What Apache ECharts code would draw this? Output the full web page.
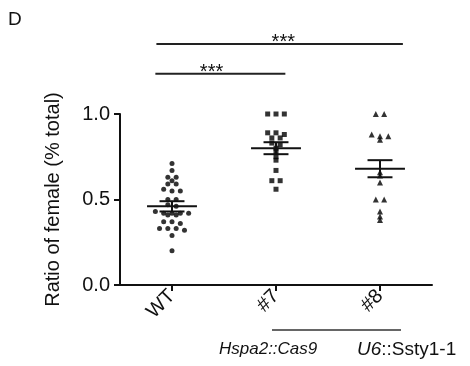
<!DOCTYPE html>
<html>
<head>
<meta charset="utf-8">
<script src="https://cdn.jsdelivr.net/npm/echarts@6/dist/echarts.min.js"></script>
<style>
  html, body { margin: 0; padding: 0; background: #fff; }
  #main { width: 470px; height: 366px; }
</style>
</head>
<body>
<div id="main"></div>
<script>
// 数据
const categories = ['WT', '#7', '#8'];
const wtValues = [0.71, 0.67, 0.63, 0.63, 0.61, 0.59, 0.59, 0.56, 0.55, 0.55, 0.50, 0.50, 0.47, 0.46, 0.43,
  0.42, 0.42, 0.42, 0.42, 0.41, 0.41, 0.37, 0.37, 0.36, 0.33, 0.33, 0.33, 0.32, 0.29, 0.20];
const g7Values = [1.0, 1.0, 1.0, 0.89, 0.88, 0.89, 0.86, 0.86, 0.83, 0.82, 0.80, 0.78, 0.75, 0.73, 0.67, 0.61, 0.61, 0.56];
const g8Values = [1.0, 1.0, 0.88, 0.87, 0.87, 0.85, 0.66, 0.64, 0.60, 0.50, 0.50, 0.43, 0.40, 0.38];
const meanValues = [0.46, 0.80, 0.68];
const semValues = [0.03, 0.035, 0.05];
const yTicks = [0.0, 0.5, 1.0];
// 显著性标记: [起点组, 终点组, 文字]
const sigPairs = [[0, 2, '***'], [0, 1, '***']];

const font = 'Arial, "Liberation Sans", sans-serif';

// 把点排成一行一行 (类似 GraphPad 的散点图)
function swarm(values, center) {
  const sorted = values.slice().sort((a, b) => b - a);
  const rows = [];
  sorted.forEach(v => {
    const row = rows[rows.length - 1];
    if (row && row[0] - v < 0.02) row.push(v); else rows.push([v]);
  });
  const out = [];
  rows.forEach(row => row.forEach((v, i) => out.push([center + (i - (row.length - 1) / 2) * 0.08, v])));
  return out;
}

var myChart = echarts.init(document.getElementById('main'));

// 均值 ± SEM
const meanData = meanValues.map((m, i) => [i, m, semValues[i]]);

// 显著性横线的位置
const sigData = [
  [sigPairs[0][0] - 0.15, sigPairs[0][1] + 0.22, 1.41, 1.07, sigPairs[0][2]],
  [sigPairs[1][0] - 0.16, sigPairs[1][1] + 0.09, 1.235, 0.38, sigPairs[1][2]]
];

var option = {
  animation: false,
  grid: { left: 120, right: 38, top: 114, bottom: 81 },
  xAxis: {
    type: 'value',
    min: -0.5,
    max: 2.5,
    splitLine: { show: false },
    axisLine: { show: true, onZero: false, lineStyle: { color: '#111', width: 2 } },
    axisTick: { show: true, customValues: [0, 1, 2], length: 6, lineStyle: { color: '#111', width: 2 } },
    axisLabel: {
      customValues: [0, 1, 2],
      formatter: v => categories[Math.round(v)],
      rotate: 45,
      margin: 8,
      fontSize: 20,
      color: '#111',
      fontFamily: font
    }
  },
  yAxis: {
    type: 'value',
    min: 0,
    max: 1,
    interval: 0.5,
    name: 'Ratio of female (% total)',
    nameLocation: 'middle',
    nameGap: 57,
    nameTextStyle: { fontSize: 20, color: '#111', fontFamily: font },
    splitLine: { show: false },
    axisLine: { show: true, onZero: false, lineStyle: { color: '#111', width: 2 } },
    axisTick: { show: true, length: 6, lineStyle: { color: '#111', width: 2 } },
    axisLabel: {
      formatter: v => yTicks.indexOf(v) >= 0 ? v.toFixed(1) : '',
      margin: 10,
      fontSize: 20,
      color: '#111',
      fontFamily: font
    }
  },
  graphic: [
    { type: 'text', left: 8, top: 10, style: { text: 'D', fontSize: 19, fill: '#111', fontFamily: font } },
    { type: 'line', shape: { x1: 272, y1: 330, x2: 401, y2: 330 }, style: { stroke: '#333', lineWidth: 1.5 } },
    {
      type: 'text', left: 219, top: 341,
      style: { text: 'Hspa2::Cas9', fontSize: 17, fontStyle: 'italic', fill: '#111', fontFamily: font }
    },
    {
      type: 'text', left: 357, top: 340,
      style: {
        text: '{i|U6}::Ssty1-1',
        fontSize: 19, fill: '#111', fontFamily: font,
        rich: { i: { fontStyle: 'italic', fontSize: 19, fontFamily: font, fill: '#111' } }
      }
    }
  ],
  series: [
    {
      type: 'scatter',
      symbol: 'circle',
      symbolSize: 5,
      itemStyle: { color: '#000' },
      data: swarm(wtValues, 0)
    },
    {
      type: 'scatter',
      symbol: 'rect',
      symbolSize: 5,
      itemStyle: { color: '#000' },
      data: swarm(g7Values, 1)
    },
    {
      type: 'scatter',
      symbol: 'triangle',
      symbolSize: 6,
      itemStyle: { color: '#000' },
      data: swarm(g8Values, 2)
    },
    {
      type: 'custom',
      data: meanData,
      z: 5,
      renderItem: function (params, api) {
        const x = api.value(0), m = api.value(1), s = api.value(2);
        const st = { stroke: '#111', lineWidth: 2 };
        const seg = (a, b) => ({ type: 'line', shape: { x1: a[0], y1: a[1], x2: b[0], y2: b[1] }, style: st });
        return {
          type: 'group',
          children: [
            seg(api.coord([x - 0.24, m]), api.coord([x + 0.24, m])),
            seg(api.coord([x - 0.12, m + s]), api.coord([x + 0.12, m + s])),
            seg(api.coord([x - 0.12, m - s]), api.coord([x + 0.12, m - s])),
            seg(api.coord([x, m + s]), api.coord([x, m - s]))
          ]
        };
      }
    },
    {
      type: 'custom',
      data: sigData,
      clip: false,
      renderItem: function (params, api) {
        const d = sigData[params.dataIndex];
        const a = api.coord([d[0], d[2]]), b = api.coord([d[1], d[2]]);
        const t = api.coord([d[3], d[2]]);
        return {
          type: 'group',
          children: [
            { type: 'line', shape: { x1: a[0], y1: a[1], x2: b[0], y2: b[1] }, style: { stroke: '#222', lineWidth: 2 } },
            {
              type: 'text',
              style: {
                text: d[4], x: t[0], y: t[1] - 1, align: 'center', verticalAlign: 'middle',
                fontSize: 20, fill: '#111', fontFamily: font
              }
            }
          ]
        };
      }
    }
  ]
};

option && myChart.setOption(option);
</script>
</body>
</html>
